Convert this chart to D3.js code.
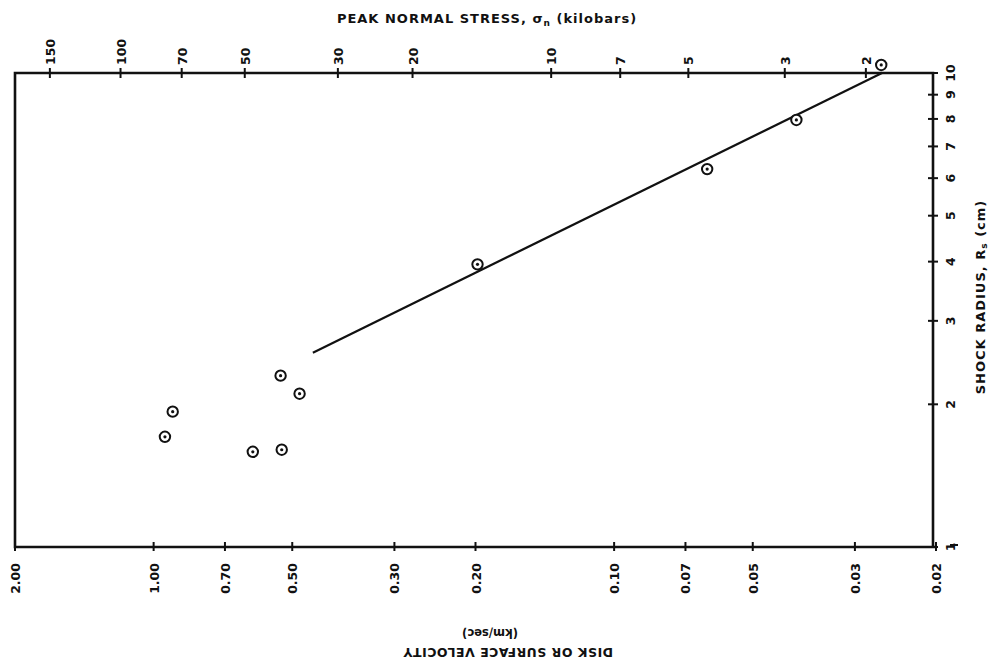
<!DOCTYPE html>
<html>
<head>
<meta charset="utf-8">
<script src="https://cdn.jsdelivr.net/npm/d3@7"></script>
<style>
  html, body { margin: 0; padding: 0; background: #fff; }
  svg text { font-family: "DejaVu Sans", sans-serif; font-weight: bold; fill: #111; }
</style>
</head>
<body>
<svg id="chart" width="991" height="669"></svg>
<script>
// Particle (disk or surface) velocity ticks, km/sec
const velocityTicks = [2.00, 1.00, 0.70, 0.50, 0.30, 0.20, 0.10, 0.07, 0.05, 0.03, 0.02];
const velocityLabels = ["2.00", "1.00", "0.70", "0.50", "0.30", "0.20", "0.10", "0.07", "0.05", "0.03", "0.02"];

// Peak normal stress ticks (kilobars) and the particle velocity each corresponds to
const stressTicks = [150, 100, 70, 50, 30, 20, 10, 7, 5, 3, 2];
const stressAtVelocity = [1.68, 1.18, 0.869, 0.634, 0.398, 0.274, 0.137, 0.097, 0.069, 0.0426, 0.0284];

// Shock radius ticks, cm
const radiusTicks = [1, 2, 3, 4, 5, 6, 7, 8, 9, 10];

// Measured points: velocity (km/sec) and shock radius (cm)
const pointVelocity = [0.945, 0.909, 0.609, 0.527, 0.530, 0.482, 0.198, 0.0628, 0.0402, 0.0263];
const pointRadius   = [1.708, 1.930, 1.588, 1.604, 2.299, 2.106, 3.947, 6.27, 7.96, 10.4];

// Fitted line end points
const fitVelocity = [0.451, 0.0262];
const fitRadius   = [2.57, 10.0];

const svg = d3.select("#chart");
const frameLeft = 15, frameRight = 933, frameTop = 73, frameBottom = 547;

const x = d3.scaleLog().domain([2, 0.02]).range([frameLeft, frameRight + 3]);
const y = d3.scaleLog().domain([1, 10]).range([frameBottom, frameTop]);
const xTop = d3.scaleLog().domain(stressTicks).range(stressAtVelocity.map(v => x(v)));

const ink = "#111";

// frame
svg.append("path")
  .attr("d", `M${frameLeft},${frameBottom} L${frameLeft},${frameTop} L${frameRight},${frameTop} L${frameRight},${frameBottom} L${x(0.02)},${frameBottom} Z`)
  .attr("fill", "none").attr("stroke", ink).attr("stroke-width", 2.6);
svg.append("line").attr("x1", x(0.02) + 14).attr("x2", x(0.02) + 22)
  .attr("y1", frameBottom - 2).attr("y2", frameBottom - 2).attr("stroke", ink).attr("stroke-width", 2);

// bottom axis ticks and labels
const gb = svg.append("g");
velocityTicks.forEach((v, i) => {
  const px = x(v);
  gb.append("line").attr("x1", px).attr("x2", px).attr("y1", frameBottom - 5).attr("y2", frameBottom + 4)
    .attr("stroke", ink).attr("stroke-width", 2);
  gb.append("text")
    .attr("transform", `translate(${px + 5},563) rotate(-90)`)
    .attr("text-anchor", "end").attr("font-size", 12.5)
    .text(velocityLabels[i]);
});

// top axis ticks and labels
const gt = svg.append("g");
stressTicks.forEach(s => {
  const px = xTop(s);
  gt.append("line").attr("x1", px).attr("x2", px).attr("y1", frameTop - 5).attr("y2", frameTop + 5)
    .attr("stroke", ink).attr("stroke-width", 2);
  gt.append("text")
    .attr("transform", `translate(${px + 5},65) rotate(-90)`)
    .attr("text-anchor", "start").attr("font-size", 12.5)
    .text(s);
});

// right axis ticks and labels
const gr = svg.append("g");
radiusTicks.forEach(r => {
  const py = y(r);
  gr.append("line").attr("x1", frameRight - 5).attr("x2", frameRight + 5).attr("y1", py).attr("y2", py)
    .attr("stroke", ink).attr("stroke-width", 2);
  gr.append("text")
    .attr("transform", `translate(955,${py}) rotate(-90)`)
    .attr("text-anchor", "middle").attr("font-size", 12.5)
    .text(r);
});

// titles
svg.append("text")
  .attr("x", 487).attr("y", 23).attr("text-anchor", "middle")
  .attr("font-size", 13).attr("letter-spacing", 1)
  .call(t => {
    t.append("tspan").text("PEAK NORMAL STRESS, σ");
    t.append("tspan").attr("font-size", 9).attr("dy", 3).text("n");
    t.append("tspan").attr("dy", -3).text(" (kilobars)");
  });

svg.append("text")
  .attr("transform", "translate(508,648) rotate(180)")
  .attr("text-anchor", "middle").attr("font-size", 12.5).attr("letter-spacing", 0.5)
  .text("DISK OR SURFACE VELOCITY");
svg.append("text")
  .attr("transform", "translate(490,629) rotate(180)")
  .attr("text-anchor", "middle").attr("font-size", 11.5)
  .text("(km/sec)");

svg.append("text")
  .attr("transform", "translate(985,297) rotate(-90)")
  .attr("text-anchor", "middle").attr("font-size", 13).attr("letter-spacing", 1)
  .call(t => {
    t.append("tspan").text("SHOCK RADIUS, R");
    t.append("tspan").attr("font-size", 9).attr("dy", 2).text("s");
    t.append("tspan").attr("dy", -2).text(" (cm)");
  });

// fitted line
svg.append("line")
  .attr("x1", x(fitVelocity[0])).attr("y1", y(fitRadius[0]))
  .attr("x2", x(fitVelocity[1])).attr("y2", y(fitRadius[1]))
  .attr("stroke", ink).attr("stroke-width", 2.2);

// data points: circled dots
const pts = svg.append("g");
pointVelocity.forEach((v, i) => {
  const cx = x(v), cy = y(pointRadius[i]);
  pts.append("circle").attr("cx", cx).attr("cy", cy).attr("r", 5.2)
    .attr("fill", "#fff").attr("stroke", ink).attr("stroke-width", 2);
  pts.append("circle").attr("cx", cx).attr("cy", cy).attr("r", 1.6).attr("fill", ink);
});
</script>
</body>
</html>
